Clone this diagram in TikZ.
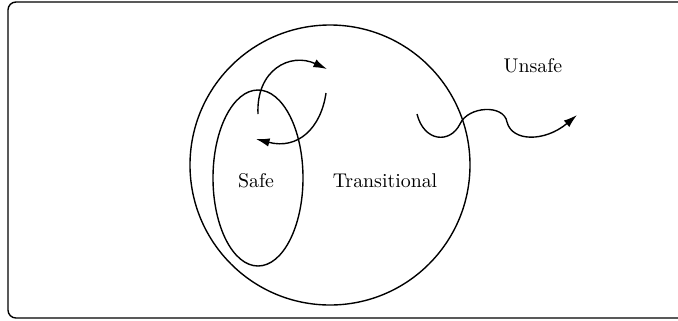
\documentclass[tikz,border=0pt]{standalone}
\usepackage{tikz}
\usetikzlibrary{arrows.meta}

\begin{document}
\begin{tikzpicture}[x=0.0177cm, y=-0.0177cm,  region/.style={draw, line width=0.7pt},  flow/.style={line width=0.7pt, -{Latex[length=2.4mm,width=1.5mm]}},  lab/.style={font=\normalsize}]
\useasboundingbox (0,0) rectangle (678,320);
%%%%%%%%%%%%%%%%%%%%%%%%%%%%%%%%%%%%%%%%%%%%%%%%%%
% frame and regions
%%%%%%%%%%%%%%%%%%%%%%%%%%%%%%%%%%%%%%%%%%%%%%%%%%
  \draw[region, rounded corners=4pt] (8,2) rectangle (700,318);
  \coordinate (trans) at (330,165);
  \coordinate (safe) at (258,178);
  \draw[region] (trans) circle[radius=140];
  \draw[region] (safe) ellipse[x radius=45, y radius=88];

  \node[lab] (safelab) at (256,181) {Safe};
  \node[lab] (translab) at (385,181) {Transitional};
  \node[lab] (unsafelab) at (533,66) {Unsafe};
%%%%%%%%%%%%%%%%%%%%%%%%%%%%%%%%%%%%%%%%%%%%%%%%%%
% trajectories
%%%%%%%%%%%%%%%%%%%%%%%%%%%%%%%%%%%%%%%%%%%%%%%%%%
  \coordinate (s1) at (258,114);
  \coordinate (e1) at (327,69);
  \coordinate (s2) at (326,93);
  \coordinate (e2) at (256,139);
  \coordinate (s3) at (417,114);
  \coordinate (w1) at (460,124);
  \coordinate (w2) at (507,122);
  \coordinate (e3) at (577,115);

  \draw[flow] (s1) .. controls (256,70) and (290,52) .. (e1);
  \draw[flow] (s2) .. controls (321,128) and (298,150) .. (e2);
  \draw[flow] (s3) .. controls (424,142) and (450,144) .. (w1)
                   .. controls (468,106) and (504,104) .. (w2)
                   .. controls (512,142) and (545,142) .. (e3);
\end{tikzpicture}
\end{document}
